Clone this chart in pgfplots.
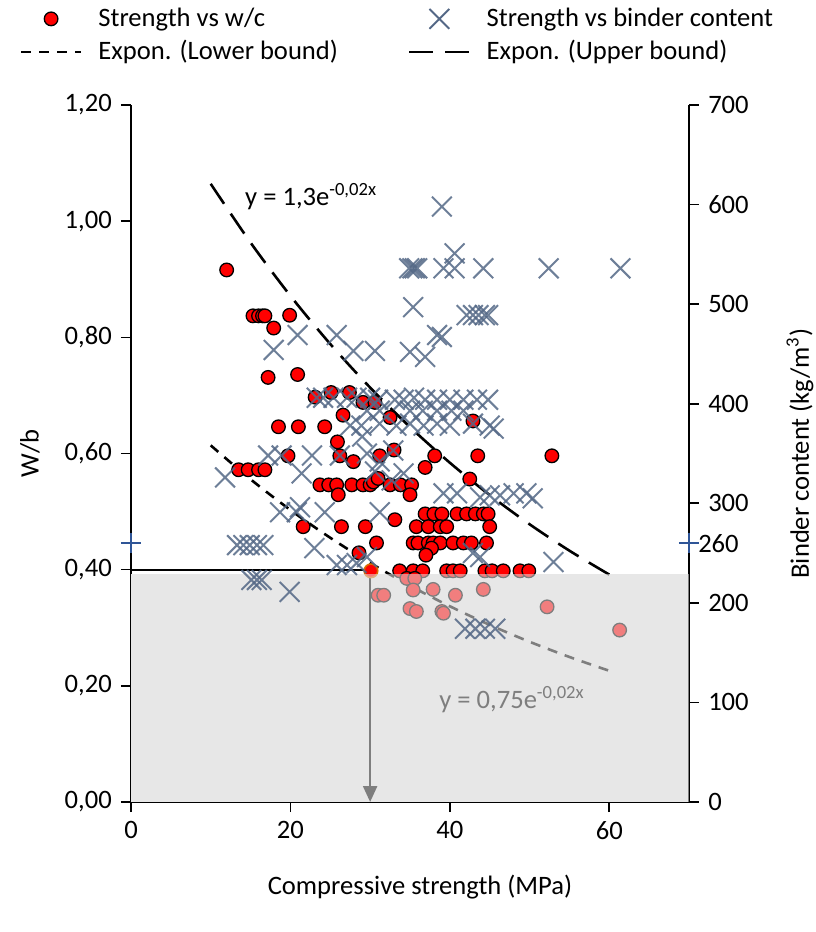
\documentclass[border=0pt]{standalone}
\usepackage{fontspec}
\setmainfont{Carlito}
\usepackage{pgfplots}
\pgfplotsset{compat=1.18}
\usetikzlibrary{arrows.meta}
\definecolor{xcol}{RGB}{84,104,134}
\definecolor{shade}{RGB}{231,231,231}
\definecolor{plusblue}{RGB}{47,85,151}

\begin{document}
\fontsize{13.3}{16}\selectfont
\begin{tikzpicture}
\useasboundingbox (-65.5pt,-65pt) rectangle (342pt,401pt);
\pgfplotsset{
  every axis/.append style={
    width=279pt, height=348.5pt, scale only axis,
    xmin=0, xmax=70,
    /pgf/number format/assume math mode=true,
    tick align=outside, major tick length=5pt,
    axis line style={black, line width=0.8pt},
    every tick/.style={black, line width=0.8pt},
    clip=false,
  }
}
% left axis: w/b
\begin{axis}[
  ymin=0, ymax=1.2,
  axis y line*=left, axis x line*=bottom,
  xtick={0,20,40,60},
  ytick={0,0.2,0.4,0.6,0.8,1.0,1.2},
  yticklabel style={/pgf/number format/.cd, fixed, fixed zerofill, precision=2, use comma},
  xlabel={Compressive strength (MPa)},
  xlabel style={at={(axis description cs:0.5,0)}, anchor=center, yshift=-42.5pt, xshift=5pt},
  ylabel={W/b},
  ylabel style={at={(axis description cs:0,0.5)}, anchor=center, rotate=0, yshift=50.5pt},
]
% shaded region
\addplot[draw=none, fill=shade] coordinates {(0,0.392) (70,0.392)} \closedcycle;

% strength vs w/c
\addplot[only marks, mark=*, mark size=3.4pt, mark options={fill=red, draw=black, line width=0.65pt}] coordinates {
(12.0,0.916)
(15.3,0.837) (16.0,0.837) (16.5,0.837) (16.8,0.837) (19.9,0.838)
(17.9,0.816)
(17.2,0.731) (20.9,0.736)
(23.1,0.697) (25.1,0.705) (27.4,0.705) (29.1,0.688) (30.6,0.688)
(26.6,0.666) (32.5,0.662) (42.9,0.656)
(18.5,0.646) (21.0,0.646) (24.3,0.646)
(25.9,0.620)
(19.7,0.596) (26.2,0.596) (31.2,0.596) (33.0,0.606) (38.1,0.596) (43.5,0.596) (52.8,0.596)
(27.9,0.586) (36.9,0.576) (42.5,0.556)
(13.5,0.572) (14.7,0.572) (16.0,0.572) (16.8,0.572)
(23.7,0.546) (24.8,0.546) (25.8,0.546) (27.7,0.546) (29.1,0.546) (30.0,0.546) (30.4,0.551) (31.0,0.557) (32.5,0.546) (33.8,0.546) (35.2,0.546)
(26.0,0.529) (35.0,0.529)
(36.9,0.496) (38.0,0.496) (39.0,0.496) (40.9,0.496) (42.1,0.496) (43.2,0.496) (44.2,0.496) (44.8,0.496)
(33.1,0.486)
(21.6,0.474) (26.4,0.474) (29.4,0.474) (35.8,0.474) (37.3,0.474) (38.8,0.474) (39.6,0.474) (45.0,0.474)
(30.8,0.446) (35.4,0.446) (36.0,0.446) (37.3,0.446) (37.9,0.446) (38.8,0.446) (40.4,0.446) (41.7,0.446) (42.7,0.446) (44.6,0.446)
(37.7,0.437) (37.0,0.425) (28.6,0.429)
(33.7,0.398) (35.4,0.398) (36.6,0.398) (39.6,0.398) (40.4,0.398) (41.3,0.398) (44.4,0.398) (45.3,0.398) (46.7,0.398) (48.8,0.398) (49.9,0.398)
(31.0,0.356) (31.7,0.356) (34.6,0.385) (35.6,0.385) (35.4,0.365) (37.9,0.366) (40.7,0.356) (44.2,0.366)
(35.0,0.333) (35.8,0.328) (39.0,0.328) (39.2,0.325) (52.2,0.336) (61.3,0.296)
};
\addplot[only marks, mark=*, mark size=3.4pt, mark options={fill=red, draw=orange!85!black, line width=0.8pt}] coordinates {(30.1,0.398)};

% trend lines
\addplot[black, line width=1.3pt, dash pattern=on 12pt off 6pt, smooth] coordinates {
(10,1.0643) (15,0.9631) (20,0.8714) (25,0.7885) (30,0.7135) (35,0.6456)
(40,0.5841) (45,0.5285) (50,0.4782) (55,0.4327) (60,0.3915)};
\addplot[black, line width=1.3pt, dash pattern=on 5pt off 4pt, smooth] coordinates {
(10,0.6140) (15,0.5556) (20,0.5027) (25,0.4549) (30,0.4116) (35,0.3724)
(40,0.3370) (45,0.3049) (50,0.2759) (55,0.2497) (60,0.2259)};

% 0.40 -> 30 MPa reading
\addplot[black, line width=1pt] coordinates {(0,0.40) (30,0.40)};
\addplot[black, line width=1.2pt, -{Triangle[length=8pt, width=7pt]}] coordinates {(30,0.40) (30,0.0)};

\node[anchor=center] at (axis cs:22.6,1.042) {y = 1,3e\textsuperscript{-0,02x}};
\node[anchor=center] at (axis cs:47.8,0.176) {y = 0,75e\textsuperscript{-0,02x}};
\end{axis}

% right axis: binder content
\begin{axis}[
  ymin=0, ymax=700,
  axis y line*=right, axis x line=none,
  ytick={0,100,200,300,400,500,600,700},
  extra y ticks={260},
  extra y tick style={major tick length=0pt},
  ylabel={Binder content (kg/m\textsuperscript{3})},
  ylabel style={at={(axis description cs:1,0.5)}, anchor=center, rotate=0, yshift=-55.5pt},
  legend columns=2,
  legend cell align=left,
  legend image code/.code={\draw[mark repeat=2, mark phase=2, #1] plot coordinates {(0pt,0pt) (15pt,0pt) (30pt,0pt)};},
  legend style={draw=none, fill=none, inner sep=0pt, at={(axis description cs:-0.2,1.146)}, anchor=north west,
    row sep=1pt,
    nodes={inner sep=2pt},
    /tikz/every odd column/.append style={column sep=6pt},
    /tikz/every even column/.append style={column sep=33pt}},
]
\addlegendimage{only marks, mark=*, mark size=3.4pt, mark options={fill=red, draw=black, line width=0.65pt}}
\addlegendentry{Strength vs w/c}
\addlegendimage{only marks, mark=x, mark size=7pt, xcol, line width=1pt}
\addlegendentry{Strength vs binder content}
\addlegendimage{black, line width=1.3pt, dash pattern=on 5pt off 4pt}
\addlegendentry{Expon. (Lower bound)}
\addlegendimage{black, line width=1.3pt, dash pattern=on 12pt off 6pt}
\addlegendentry{Expon. (Upper bound)}

% strength vs binder content
\addplot[forget plot, only marks, mark=x, mark size=7pt, draw=xcol, draw opacity=0.85, line width=1pt] coordinates {
(39.0,598)
(34.9,536) (35.3,536) (35.6,536) (35.9,536) (39.2,536) (40.6,536) (44.2,536) (52.4,536) (61.4,536)
(40.6,551)
(35.4,497)
(42.1,489) (42.9,489) (43.6,489) (44.4,489) (44.8,489)
(38.4,469) (39.0,467)
(20.9,469) (25.8,469)
(17.9,454) (27.9,453) (30.6,453) (35.0,452) (36.9,447)
(23.3,406) (24.1,406) (25.4,406) (27.1,406) (28.3,406) (30.0,406) (31.0,404) (33.1,404) (34.2,404) (35.5,406) (36.9,404) (38.4,404) (40.0,404) (41.7,404) (43.4,404) (44.8,404)
(29.6,393) (31.2,393) (35.0,393) (36.6,393) (38.4,393) (40.2,393) (41.7,393)
(27.5,378) (28.9,378) (31.2,380) (33.3,378) (35.0,380) (36.7,378) (38.4,380) (40.0,378) (42.9,380) (45.0,378) (45.5,375)
(29.0,367)
(17.2,348) (18.9,348) (22.7,348) (26.2,348) (29.6,350) (31.2,342) (32.9,353)
(11.8,326) (21.4,330) (30.6,332) (32.7,323) (34.2,330)
(39.2,310) (40.9,310) (43.8,306) (45.0,308) (46.3,308) (48.0,310) (49.6,310) (50.4,305)
(18.7,291) (20.8,291) (21.2,296) (24.3,291) (31.2,291)
(23.0,255)
(13.3,258) (14.1,258) (14.9,258) (15.8,258) (16.6,258)
(25.8,238) (27.1,238) (28.3,240) (29.6,246)
(42.9,250) (43.8,246) (53.0,241)
(15.1,223) (15.8,223) (16.4,223) (19.9,211)
(41.9,174) (43.2,174) (44.4,174) (45.7,174)
};

% light overlay over the region below w/b = 0.39
\addplot[forget plot, draw=none, fill=shade, fill opacity=0.55] coordinates {(0,228.7) (70,228.7)} \closedcycle;

% 260 kg/m3 markers
\addplot[forget plot, only marks, mark=+, mark size=5pt, plusblue, line width=0.8pt] coordinates {(0,260) (70,260)};
\end{axis}
\end{tikzpicture}
\end{document}
